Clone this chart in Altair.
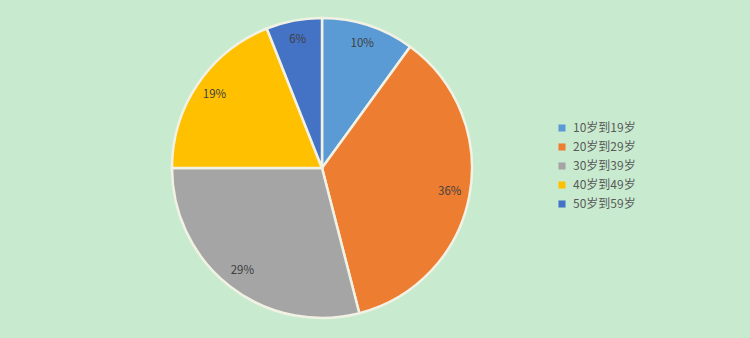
import altair as alt
import pandas as pd

categories = ["10岁到19岁", "20岁到29岁", "30岁到39岁", "40岁到49岁", "50岁到59岁"]
values = [10, 36, 29, 19, 6]
labels = ["10%", "36%", "29%", "19%", "6%"]
colors = ["#5b9bd5", "#ed7d31", "#a5a5a5", "#ffc000", "#4472c4"]

df = pd.DataFrame({"cat": categories, "value": values, "label": labels, "idx": list(range(len(values)))})

base = alt.Chart(df).encode(
    theta=alt.Theta("value:Q", stack=True),
    order=alt.Order("idx:Q"),
)

pie = base.mark_arc(radius=150, stroke="#f2f2e4", strokeWidth=2.5).encode(
    x=alt.value(322),
    y=alt.value(168),
    color=alt.Color(
        "cat:N",
        scale=alt.Scale(domain=categories, range=colors),
        sort=categories,
        legend=alt.Legend(
            title=None,
            orient="none",
            legendX=556,
            legendY=122,
            symbolType="square",
            symbolSize=50,
            symbolStrokeWidth=0,
            labelFontSize=12,
            labelFont="Noto Sans CJK SC",
            labelColor="#595959",
            rowPadding=7,
            labelOffset=5,
        ),
    ),
)

text = base.mark_text(radius=130, fontSize=11.5, font="Noto Sans CJK SC", color="#404040").encode(
    x=alt.value(322),
    y=alt.value(168),
    text="label:N",
)

chart = (
    alt.layer(pie, text)
    .properties(width=750, height=338, autosize=alt.AutoSizeParams(type="none"), padding=0, background="#c8ebcf")
    .configure_view(stroke=None)
)

chart.save("out.html", embed_options={"renderer": "svg", "actions": False})
